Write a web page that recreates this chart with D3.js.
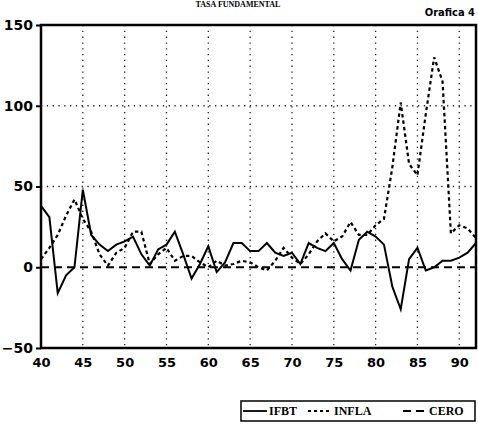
<!DOCTYPE html>
<html>
<head>
<meta charset="utf-8">
<script src="https://cdn.jsdelivr.net/npm/d3@7"></script>
<style>
  body { margin: 0; background: #fff; }
  svg { display: block; }
</style>
</head>
<body>
<div id="chart"></div>
<script>
// years 1940-1992 (two-digit)
const years = d3.range(40, 93);
const ifbt = [38, 31, -16, -5, 0, 48, 20, 14, 10, 14, 16, 19, 8, 1, 11, 14, 22, 8, -7, 2,
  13, -3, 3, 15, 15, 10, 10, 15, 9, 7, 9, 2, 15, 12, 10, 15, 5, -2, 17, 22,
  19, 14, -12, -26, 5, 12, -2, 0, 4, 4, 6, 9, 15];
const infla = [5, 12, 20, 32, 42, 30, 22, 8, 1, 9, 12, 22, 22, 2, 8, 12, 4, 7, 7, 3,
  0, 4, 1, 2, 4, 3, 0, -2, 4, 12, 6, 2, 8, 16, 21, 16, 19, 28, 20, 20,
  26, 30, 62, 102, 64, 57, 95, 130, 115, 21, 26, 24, 18];
const yTicks = [150, 100, 50, 0, -50];
const xTicks = [40, 45, 50, 55, 60, 65, 70, 75, 80, 85, 90];
const legendItems = [
  { name: "IFBT", dash: null },
  { name: "INFLA", dash: "3,3" },
  { name: "CERO", dash: "8,5" }
];

const W = 478, H = 424;
const svg = d3.select("#chart").append("svg")
  .attr("width", W).attr("height", H);

const x = d3.scaleLinear().domain([40, 92]).range([41, 476]);
const y = d3.scaleLinear().domain([-50, 150]).range([348, 25]);

const font = "'DejaVu Sans', sans-serif";

// title and chart number
svg.append("text")
  .attr("x", 238).attr("y", 7)
  .attr("text-anchor", "middle")
  .style("font", `bold 8px 'Liberation Serif', serif`)
  .text("TASA FUNDAMENTAL");

svg.append("text")
  .attr("x", 475).attr("y", 16)
  .attr("text-anchor", "end")
  .style("font", `bold 11px 'DejaVu Sans Condensed', 'DejaVu Sans', sans-serif`)
  .text("Orafica 4");

// grid
const grid = svg.append("g")
  .attr("stroke", "#222")
  .attr("stroke-width", 1.3)
  .attr("stroke-dasharray", "1.3,4.5");

grid.selectAll("line.v")
  .data(xTicks.filter(d => d > 40))
  .join("line")
  .attr("x1", d => x(d)).attr("x2", d => x(d))
  .attr("y1", y(150)).attr("y2", y(-50));

grid.selectAll("line.h")
  .data([100, 50])
  .join("line")
  .attr("x1", x(40)).attr("x2", x(92))
  .attr("y1", d => y(d)).attr("y2", d => y(d));

// zero line
svg.append("line")
  .attr("x1", x(40)).attr("x2", x(92))
  .attr("y1", y(0)).attr("y2", y(0))
  .attr("stroke", "#000")
  .attr("stroke-width", 2)
  .attr("stroke-dasharray", "8,5");

const line = d3.line()
  .x((d, i) => x(years[i]))
  .y(d => y(d));

svg.append("path")
  .datum(infla)
  .attr("d", line)
  .attr("fill", "none")
  .attr("stroke", "#000")
  .attr("stroke-width", 2.2)
  .attr("stroke-dasharray", "3.5,3");

svg.append("path")
  .datum(ifbt)
  .attr("d", line)
  .attr("fill", "none")
  .attr("stroke", "#000")
  .attr("stroke-width", 2);

// frame
svg.append("rect")
  .attr("x", x(40)).attr("y", y(150))
  .attr("width", x(92) - x(40))
  .attr("height", y(-50) - y(150))
  .attr("fill", "none")
  .attr("stroke", "#000")
  .attr("stroke-width", 2.5);

// axes
const yAxis = svg.append("g")
  .attr("transform", `translate(${x(40)},0)`)
  .call(d3.axisLeft(y).tickValues(yTicks).tickSize(5).tickPadding(3).tickFormat(d3.format("d")));
yAxis.select(".domain").remove();
yAxis.selectAll("line").attr("stroke-width", 2);
yAxis.selectAll("text")
  .style("font", `bold 14px ${font}`)
  .attr("fill", "#000");

const xAxis = svg.append("g")
  .attr("transform", `translate(0,${y(-50)})`)
  .call(d3.axisBottom(x).tickValues(xTicks).tickSize(0).tickPadding(10));
xAxis.select(".domain").remove();
xAxis.selectAll("text")
  .style("font", `bold 13px ${font}`)
  .attr("fill", "#000");

// legend
const lg = svg.append("g");
lg.append("rect")
  .attr("x", 241).attr("y", 401)
  .attr("width", 234).attr("height", 20)
  .attr("fill", "#fff")
  .attr("stroke", "#000")
  .attr("stroke-width", 1.5);

const slotX = [243, 308, 403];
const item = lg.selectAll("g.item")
  .data(legendItems)
  .join("g")
  .attr("transform", (d, i) => `translate(${slotX[i]},411)`);
item.append("line")
  .attr("x1", 0).attr("x2", 24)
  .attr("stroke", "#000")
  .attr("stroke-width", 1.8)
  .attr("stroke-dasharray", d => d.dash);
item.append("text")
  .attr("x", 26).attr("dy", "0.35em")
  .style("font", `bold 12px 'Liberation Serif', serif`)
  .text(d => d.name);
</script>
</body>
</html>
